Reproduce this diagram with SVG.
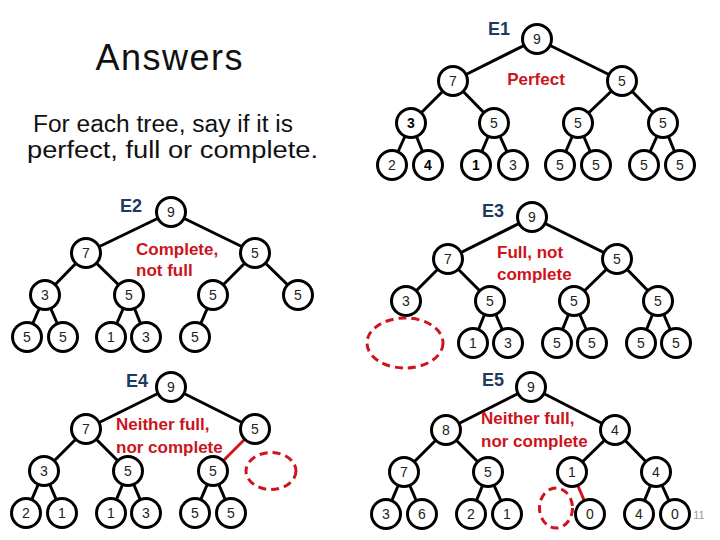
<svg xmlns="http://www.w3.org/2000/svg" width="720" height="540" viewBox="0 0 720 540">
<style>
.n circle{fill:#fff;stroke:#000;stroke-width:3}
.n text{font-family:"Liberation Sans",Arial,sans-serif;font-size:14px;text-anchor:middle;fill:#222}
.n text.b{font-weight:bold;fill:#000}
.e line{stroke:#000;stroke-width:3}
.e line.r{stroke:#D0131C}
.lab{font-family:"Liberation Sans",Arial,sans-serif;font-size:18px;font-weight:bold;fill:#1F3A5F}
.red{font-family:"Liberation Sans",Arial,sans-serif;font-size:17px;font-weight:bold;fill:#CC141C}
.dash{fill:none;stroke:#D0131C;stroke-width:3;stroke-dasharray:8 5}
.body{font-family:"Liberation Sans",Arial,sans-serif;fill:#111}
</style>
<rect width="720" height="540" fill="#fff"/>
<text class="body" x="169" y="70" font-size="36" text-anchor="middle" textLength="147">Answers</text>
<text class="body" x="33" y="132" font-size="23" textLength="260" lengthAdjust="spacingAndGlyphs">For each tree, say if it is</text>
<text class="body" x="27" y="158" font-size="23" textLength="291" lengthAdjust="spacingAndGlyphs">perfect, full or complete.</text>

<g id="connectors" class="e">
<!-- E1 -->
<line x1="537" y1="39" x2="453" y2="81"/><line x1="537" y1="39" x2="622" y2="81"/>
<line x1="453" y1="81" x2="411" y2="123"/><line x1="453" y1="81" x2="494" y2="123"/>
<line x1="622" y1="81" x2="578" y2="123"/><line x1="622" y1="81" x2="663" y2="123"/>
<line x1="411" y1="123" x2="392" y2="165"/><line x1="411" y1="123" x2="428" y2="165"/>
<line x1="494" y1="123" x2="476" y2="165"/><line x1="494" y1="123" x2="513" y2="165"/>
<line x1="578" y1="123" x2="560" y2="165"/><line x1="578" y1="123" x2="596" y2="165"/>
<line x1="663" y1="123" x2="644" y2="165"/><line x1="663" y1="123" x2="680" y2="165"/>
<!-- E2 -->
<line x1="171" y1="212" x2="86" y2="253"/><line x1="171" y1="212" x2="255" y2="253"/>
<line x1="86" y1="253" x2="45" y2="295"/><line x1="86" y1="253" x2="129" y2="295"/>
<line x1="255" y1="253" x2="213" y2="295"/><line x1="255" y1="253" x2="298" y2="295"/>
<line x1="45" y1="295" x2="27" y2="337"/><line x1="45" y1="295" x2="63" y2="337"/>
<line x1="129" y1="295" x2="111" y2="337"/><line x1="129" y1="295" x2="146" y2="337"/>
<line x1="213" y1="295" x2="195" y2="337"/>
<!-- E3 -->
<line x1="532" y1="217" x2="448" y2="259"/><line x1="532" y1="217" x2="617" y2="259"/>
<line x1="448" y1="259" x2="406" y2="301"/><line x1="448" y1="259" x2="490" y2="301"/>
<line x1="617" y1="259" x2="574" y2="301"/><line x1="617" y1="259" x2="658" y2="301"/>
<line x1="490" y1="301" x2="473" y2="343"/><line x1="490" y1="301" x2="508" y2="343"/>
<line x1="574" y1="301" x2="557" y2="343"/><line x1="574" y1="301" x2="592" y2="343"/>
<line x1="658" y1="301" x2="641" y2="343"/><line x1="658" y1="301" x2="676" y2="343"/>
<!-- E4 -->
<line x1="171" y1="387" x2="86" y2="429"/><line x1="171" y1="387" x2="255" y2="429"/>
<line x1="86" y1="429" x2="44" y2="471"/><line x1="86" y1="429" x2="128" y2="471"/>
<line class="r" x1="255" y1="429" x2="213" y2="471"/>
<line x1="44" y1="471" x2="26" y2="513"/><line x1="44" y1="471" x2="62" y2="513"/>
<line x1="128" y1="471" x2="111" y2="513"/><line x1="128" y1="471" x2="146" y2="513"/>
<line x1="213" y1="471" x2="195" y2="513"/><line x1="213" y1="471" x2="231" y2="513"/>
<!-- E5 -->
<line x1="531" y1="387" x2="446" y2="430"/><line x1="531" y1="387" x2="615" y2="430"/>
<line x1="446" y1="430" x2="404" y2="472"/><line x1="446" y1="430" x2="488" y2="472"/>
<line x1="615" y1="430" x2="572" y2="472"/><line x1="615" y1="430" x2="656" y2="472"/>
<line x1="404" y1="472" x2="386" y2="514"/><line x1="404" y1="472" x2="422" y2="514"/>
<line x1="488" y1="472" x2="471" y2="514"/><line x1="488" y1="472" x2="507" y2="514"/>
<line class="r" x1="572" y1="472" x2="590" y2="514"/>
<line x1="656" y1="472" x2="639" y2="514"/><line x1="656" y1="472" x2="675" y2="514"/>
</g>

<!-- E1 nodes -->
<g id="e1-root" class="n"><circle cx="537" cy="39" r="14.5"/><text x="537" y="44">9</text></g>
<g id="e1-7" class="n"><circle cx="453" cy="81" r="14.5"/><text x="453" y="86">7</text></g>
<g id="e1-5r" class="n"><circle cx="622" cy="81" r="14.5"/><text x="622" y="86">5</text></g>
<g id="e1-3" class="n"><circle cx="411" cy="123" r="14.5"/><text class="b" x="411" y="128">3</text></g>
<g id="e1-5a" class="n"><circle cx="494" cy="123" r="14.5"/><text x="494" y="128">5</text></g>
<g id="e1-5b" class="n"><circle cx="578" cy="123" r="14.5"/><text x="578" y="128">5</text></g>
<g id="e1-5c" class="n"><circle cx="663" cy="123" r="14.5"/><text x="663" y="128">5</text></g>
<g id="e1-l1" class="n"><circle cx="392" cy="165" r="14.5"/><text x="392" y="170">2</text></g>
<g id="e1-l2" class="n"><circle cx="428" cy="165" r="14.5"/><text class="b" x="428" y="170">4</text></g>
<g id="e1-l3" class="n"><circle cx="476" cy="165" r="14.5"/><text class="b" x="476" y="170">1</text></g>
<g id="e1-l4" class="n"><circle cx="513" cy="165" r="14.5"/><text x="513" y="170">3</text></g>
<g id="e1-l5" class="n"><circle cx="560" cy="165" r="14.5"/><text x="560" y="170">5</text></g>
<g id="e1-l6" class="n"><circle cx="596" cy="165" r="14.5"/><text x="596" y="170">5</text></g>
<g id="e1-l7" class="n"><circle cx="644" cy="165" r="14.5"/><text x="644" y="170">5</text></g>
<g id="e1-l8" class="n"><circle cx="680" cy="165" r="14.5"/><text x="680" y="170">5</text></g>
<text class="lab" x="499" y="35" text-anchor="middle">E1</text>
<text class="red" x="536" y="85" text-anchor="middle">Perfect</text>

<!-- E2 nodes -->
<g id="e2-root" class="n"><circle cx="171" cy="212" r="14.5"/><text x="171" y="217">9</text></g>
<g id="e2-7" class="n"><circle cx="86" cy="253" r="14.5"/><text x="86" y="258">7</text></g>
<g id="e2-5r" class="n"><circle cx="255" cy="253" r="14.5"/><text x="255" y="258">5</text></g>
<g id="e2-3" class="n"><circle cx="45" cy="295" r="14.5"/><text x="45" y="300">3</text></g>
<g id="e2-5a" class="n"><circle cx="129" cy="295" r="14.5"/><text x="129" y="300">5</text></g>
<g id="e2-5b" class="n"><circle cx="213" cy="295" r="14.5"/><text x="213" y="300">5</text></g>
<g id="e2-5c" class="n"><circle cx="298" cy="295" r="14.5"/><text x="298" y="300">5</text></g>
<g id="e2-l1" class="n"><circle cx="27" cy="337" r="14.5"/><text x="27" y="342">5</text></g>
<g id="e2-l2" class="n"><circle cx="63" cy="337" r="14.5"/><text x="63" y="342">5</text></g>
<g id="e2-l3" class="n"><circle cx="111" cy="337" r="14.5"/><text x="111" y="342">1</text></g>
<g id="e2-l4" class="n"><circle cx="146" cy="337" r="14.5"/><text x="146" y="342">3</text></g>
<g id="e2-l5" class="n"><circle cx="195" cy="337" r="14.5"/><text x="195" y="342">5</text></g>
<text class="lab" x="131" y="212" text-anchor="middle">E2</text>
<text class="red" x="136" y="255">Complete,</text>
<text class="red" x="136" y="276">not full</text>

<!-- E3 nodes -->
<g id="e3-root" class="n"><circle cx="532" cy="217" r="14.5"/><text x="532" y="222">9</text></g>
<g id="e3-7" class="n"><circle cx="448" cy="259" r="14.5"/><text x="448" y="264">7</text></g>
<g id="e3-5r" class="n"><circle cx="617" cy="259" r="14.5"/><text x="617" y="264">5</text></g>
<g id="e3-3" class="n"><circle cx="406" cy="301" r="14.5"/><text x="406" y="306">3</text></g>
<g id="e3-5a" class="n"><circle cx="490" cy="301" r="14.5"/><text x="490" y="306">5</text></g>
<g id="e3-5b" class="n"><circle cx="574" cy="301" r="14.5"/><text x="574" y="306">5</text></g>
<g id="e3-5c" class="n"><circle cx="658" cy="301" r="14.5"/><text x="658" y="306">5</text></g>
<g id="e3-l1" class="n"><circle cx="473" cy="343" r="14.5"/><text x="473" y="348">1</text></g>
<g id="e3-l2" class="n"><circle cx="508" cy="343" r="14.5"/><text x="508" y="348">3</text></g>
<g id="e3-l3" class="n"><circle cx="557" cy="343" r="14.5"/><text x="557" y="348">5</text></g>
<g id="e3-l4" class="n"><circle cx="592" cy="343" r="14.5"/><text x="592" y="348">5</text></g>
<g id="e3-l5" class="n"><circle cx="641" cy="343" r="14.5"/><text x="641" y="348">5</text></g>
<g id="e3-l6" class="n"><circle cx="676" cy="343" r="14.5"/><text x="676" y="348">5</text></g>
<ellipse id="e3-missing" class="dash" cx="405" cy="343" rx="38" ry="25"/>
<text class="lab" x="493" y="217" text-anchor="middle">E3</text>
<text class="red" x="497" y="258">Full, not</text>
<text class="red" x="497" y="280">complete</text>

<!-- E4 nodes -->
<g id="e4-root" class="n"><circle cx="171" cy="387" r="14.5"/><text x="171" y="392">9</text></g>
<g id="e4-7" class="n"><circle cx="86" cy="429" r="14.5"/><text x="86" y="434">7</text></g>
<g id="e4-5r" class="n"><circle cx="255" cy="429" r="14.5"/><text x="255" y="434">5</text></g>
<g id="e4-3" class="n"><circle cx="44" cy="471" r="14.5"/><text x="44" y="476">3</text></g>
<g id="e4-5a" class="n"><circle cx="128" cy="471" r="14.5"/><text x="128" y="476">5</text></g>
<g id="e4-5b" class="n"><circle cx="213" cy="471" r="14.5"/><text x="213" y="476">5</text></g>
<g id="e4-l1" class="n"><circle cx="26" cy="513" r="14.5"/><text x="26" y="518">2</text></g>
<g id="e4-l2" class="n"><circle cx="62" cy="513" r="14.5"/><text x="62" y="518">1</text></g>
<g id="e4-l3" class="n"><circle cx="111" cy="513" r="14.5"/><text x="111" y="518">1</text></g>
<g id="e4-l4" class="n"><circle cx="146" cy="513" r="14.5"/><text x="146" y="518">3</text></g>
<g id="e4-l5" class="n"><circle cx="195" cy="513" r="14.5"/><text x="195" y="518">5</text></g>
<g id="e4-l6" class="n"><circle cx="231" cy="513" r="14.5"/><text x="231" y="518">5</text></g>
<ellipse id="e4-missing" class="dash" cx="271" cy="471" rx="25" ry="18.5"/>
<text class="lab" x="137" y="387" text-anchor="middle">E4</text>
<text class="red" x="116" y="430">Neither full,</text>
<text class="red" x="116" y="453">nor complete</text>

<!-- E5 nodes -->
<g id="e5-root" class="n"><circle cx="531" cy="387" r="14.5"/><text x="531" y="392">9</text></g>
<g id="e5-8" class="n"><circle cx="446" cy="430" r="14.5"/><text x="446" y="435">8</text></g>
<g id="e5-4r" class="n"><circle cx="615" cy="430" r="14.5"/><text x="615" y="435">4</text></g>
<g id="e5-7" class="n"><circle cx="404" cy="472" r="14.5"/><text x="404" y="477">7</text></g>
<g id="e5-5" class="n"><circle cx="488" cy="472" r="14.5"/><text x="488" y="477">5</text></g>
<g id="e5-1" class="n"><circle cx="572" cy="472" r="14.5"/><text x="572" y="477">1</text></g>
<g id="e5-4" class="n"><circle cx="656" cy="472" r="14.5"/><text x="656" y="477">4</text></g>
<g id="e5-l1" class="n"><circle cx="386" cy="514" r="14.5"/><text x="386" y="519">3</text></g>
<g id="e5-l2" class="n"><circle cx="422" cy="514" r="14.5"/><text x="422" y="519">6</text></g>
<g id="e5-l3" class="n"><circle cx="471" cy="514" r="14.5"/><text x="471" y="519">2</text></g>
<g id="e5-l4" class="n"><circle cx="507" cy="514" r="14.5"/><text x="507" y="519">1</text></g>
<g id="e5-l5" class="n"><circle cx="590" cy="514" r="14.5"/><text x="590" y="519">0</text></g>
<g id="e5-l6" class="n"><circle cx="639" cy="514" r="14.5"/><text x="639" y="519">4</text></g>
<g id="e5-l7" class="n"><circle cx="675" cy="514" r="14.5"/><text x="675" y="519">0</text></g>
<ellipse id="e5-missing" class="dash" cx="556" cy="508" rx="16.5" ry="20"/>
<text class="lab" x="493" y="386" text-anchor="middle">E5</text>
<text class="red" x="481" y="424">Neither full,</text>
<text class="red" x="481" y="447">nor complete</text>

<text x="699" y="519" font-family="Liberation Sans,Arial,sans-serif" font-size="11" fill="#999" text-anchor="middle">11</text>
</svg>
